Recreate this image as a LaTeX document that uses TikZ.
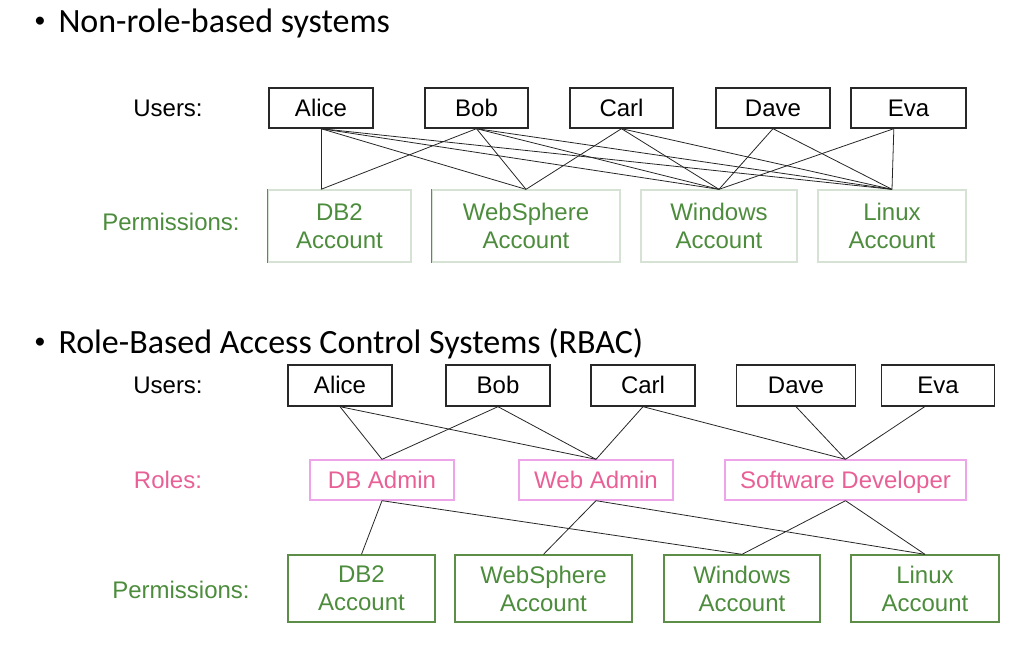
\documentclass[tikz,border=0pt]{standalone}
\usepackage{fontspec}
\setmainfont{Liberation Sans}
\newfontfamily\slidefont{Carlito}

\definecolor{permgreen}{RGB}{76,140,60}
\definecolor{permline}{RGB}{92,142,72}
\definecolor{permfaint}{RGB}{214,226,211}
\definecolor{rolepink}{RGB}{232,96,150}
\definecolor{roleline}{RGB}{238,164,232}
\definecolor{userline}{RGB}{40,40,40}

\tikzset{every picture/.style={line width=0.75pt}}
\tikzset{
  boxfont/.style={font=\fontsize{18}{21}\selectfont},
  oneline/.style={text height=12.6pt, text depth=0pt},
  userbox/.style={boxfont, oneline, draw=userline, line width=1pt, inner sep=0pt, minimum height=30pt},
  rolebox/.style={boxfont, oneline, draw=roleline, line width=1pt, inner sep=0pt, minimum height=30pt, text=rolepink},
  permbox/.style={boxfont, draw=permline, line width=1pt, inner sep=0pt, minimum height=50.25pt, align=center, text=permgreen},
  permfade/.style={boxfont, draw=permfaint, line width=1pt, inner sep=0pt, minimum height=54pt, align=center, text=permgreen},
  rowlabel/.style={boxfont, oneline, inner sep=0pt},
  slidetitle/.style={font=\slidefont\fontsize{25.5}{30}\selectfont, inner sep=0pt},
  dotmark/.style={font=\slidefont\fontsize{17}{20}\selectfont, inner sep=0pt},
  link/.style={line width=0.6pt, black!85},
}

\begin{document}
\begin{tikzpicture}[x=0.75pt,y=0.75pt,yscale=-1,xscale=1]
\useasboundingbox (0,0) rectangle (1015,647);

% Text Node
\node [dotmark] (bullet1) at (40,22) {•};
\node [slidetitle, anchor=base west] (title1) at (58,32) {Non-role-based systems};
% Text Node
\node [dotmark] (bullet2) at (40,343) {•};
\node [slidetitle, anchor=base west] (title2) at (58,353) {Role-Based Access Control Systems (RBAC)};

% Text Node
\node [rowlabel] (users1) at (168,108) {Users:};
\node [rowlabel, text=permgreen] (perms1) at (171,222) {Permissions:};

%Shape: Rectangle
\node [userbox, minimum width=78pt] (alice1) at (321,108) {Alice};
\node [userbox, minimum width=77.25pt] (bob1) at (476.5,108) {Bob};
\node [userbox, minimum width=77.25pt] (carl1) at (621.5,108) {Carl};
\node [userbox, minimum width=85.5pt] (dave1) at (773,108) {Dave};
\node [userbox, minimum width=86.25pt] (eva1) at (908.5,108) {Eva};

%Shape: Rectangle
\node [permfade, minimum width=107.25pt] (db2one) at (339.5,226) {DB2\\Account};
\node [permfade, minimum width=141pt] (websph1) at (526,226) {WebSphere\\Account};
\node [permfade, minimum width=117pt] (windows1) at (719,226) {Windows\\Account};
\node [permfade, minimum width=111pt] (linux1) at (892,226) {Linux\\Account};
\draw [permline, line width=1pt] (db2one.north west) -- (db2one.south west);
\draw [permline, line width=0.8pt] (websph1.north west) -- (websph1.south west);

\coordinate (db2in) at (alice1.south |- db2one.north);
\coordinate (evaout1) at ([xshift=-11pt]eva1.south);

%Straight Lines
\draw [link] (alice1.south) -- (db2in);
\draw [link] (alice1.south) -- (websph1.north);
\draw [link] (alice1.south) -- (windows1.north);
\draw [link] (alice1.south) -- (linux1.north);
\draw [link] (bob1.south) -- (db2in);
\draw [link] (bob1.south) -- (websph1.north);
\draw [link] (bob1.south) -- (windows1.north);
\draw [link] (bob1.south) -- (linux1.north);
\draw [link] (carl1.south) -- (websph1.north);
\draw [link] (carl1.south) -- (windows1.north);
\draw [link] (carl1.south) -- (linux1.north);
\draw [link] (dave1.south) -- (windows1.north);
\draw [link] (dave1.south) -- (linux1.north);
\draw [link] (evaout1) -- (windows1.north);
\draw [link] (evaout1) -- (linux1.north);

% Text Node
\node [rowlabel] (users2) at (168,385) {Users:};
\node [rowlabel, text=rolepink] (roles2) at (168,480) {Roles:};
\node [rowlabel, text=permgreen] (perms2) at (181,590) {Permissions:};

%Shape: Rectangle
\node [userbox, minimum width=78pt, minimum height=30.75pt] (alice2) at (340,385.5) {Alice};
\node [userbox, minimum width=78pt, minimum height=30.75pt] (bob2) at (498,385.5) {Bob};
\node [userbox, minimum width=78pt, minimum height=30.75pt] (carl2) at (643,385.5) {Carl};
\node [userbox, minimum width=89.25pt, minimum height=30.75pt] (dave2) at (796,385.5) {Dave};
\node [userbox, minimum width=84.75pt, minimum height=30.75pt] (eva2) at (938,385.5) {Eva};

%Shape: Rectangle
\node [rolebox, minimum width=108pt] (dbadmin) at (382,480) {DB Admin};
\node [rolebox, minimum width=115.5pt] (webadmin) at (596,480) {Web Admin};
\node [rolebox, minimum width=180.75pt] (softdev) at (845.5,480) {Software Developer};

%Shape: Rectangle
\node [permbox, minimum width=110.25pt] (db2two) at (361.5,588.5) {DB2\\Account};
\node [permbox, minimum width=132.75pt] (websph2) at (543.5,588.5) {WebSphere\\Account};
\node [permbox, minimum width=117pt] (windows2) at (742,588.5) {Windows\\Account};
\node [permbox, minimum width=111pt] (linux2) at (925,588.5) {Linux\\Account};

\coordinate (evaout2) at ([xshift=-10pt]eva2.south);

%Straight Lines
\draw [link] (alice2.south) -- (dbadmin.north);
\draw [link] (alice2.south) -- (webadmin.north);
\draw [link] (bob2.south) -- (dbadmin.north);
\draw [link] (bob2.south) -- (webadmin.north);
\draw [link] (carl2.south) -- (webadmin.north);
\draw [link] (carl2.south) -- (softdev.north);
\draw [link] (dave2.south) -- (softdev.north);
\draw [link] (evaout2) -- (softdev.north);

%Straight Lines
\draw [link] (dbadmin.south) -- (db2two.north);
\draw [link] (dbadmin.south) -- (windows2.north);
\draw [link] (webadmin.south) -- (websph2.north);
\draw [link] (webadmin.south) -- (linux2.north);
\draw [link] (softdev.south) -- (windows2.north);
\draw [link] (softdev.south) -- (linux2.north);

\end{tikzpicture}
\end{document}
